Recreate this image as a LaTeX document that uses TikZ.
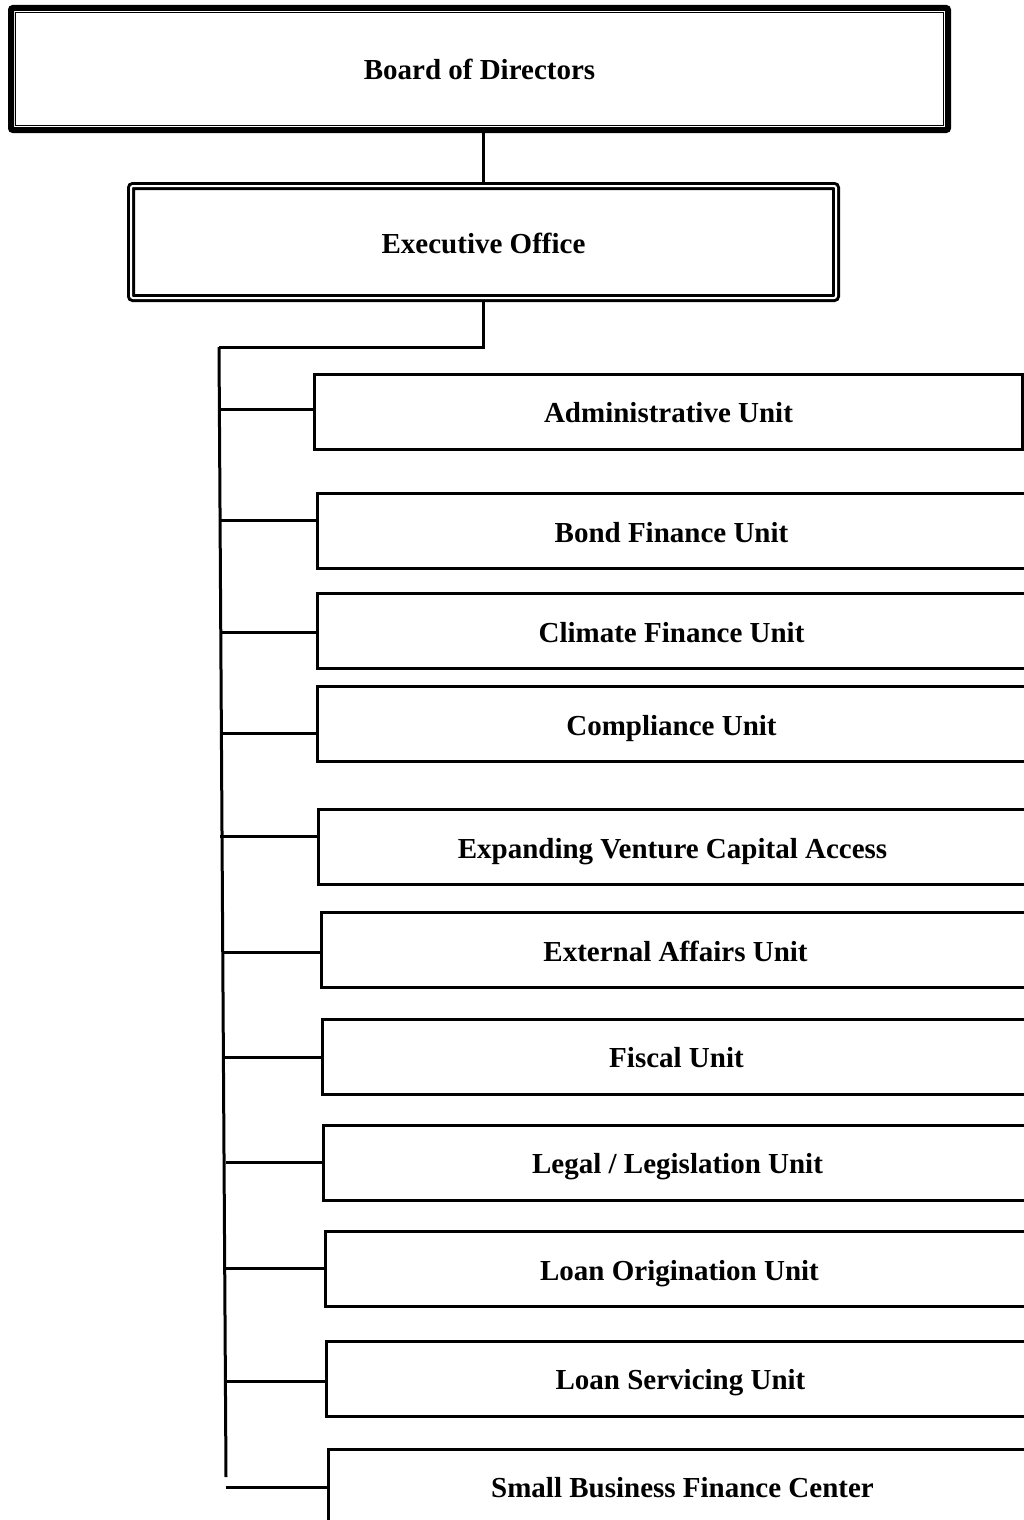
\documentclass[tikz,border=0pt]{standalone}
\usepackage{fontspec}
\setmainfont{Liberation Serif}
\usetikzlibrary{fit}
\begin{document}
\begin{tikzpicture}[x=1pt,y=-1pt,
    every node/.style={font=\fontsize{29}{34}\selectfont\bfseries,text height=25pt,text depth=3pt},
    boardbox/.style={draw,line width=6pt,rounded corners=2pt,minimum width=937pt,minimum height=122pt},
    innerframe/.style={draw,line width=1.2pt,inner sep=-7.5pt},
    execbox/.style={draw,double,line width=3pt,double distance=2pt,rounded corners=2pt,minimum width=705pt,minimum height=112pt},
    unitbox/.style={draw,line width=3pt,anchor=west,minimum width=708pt,minimum height=75pt},
    link/.style={line width=3pt}]
  \useasboundingbox (0,0) rectangle (1023,1520);
  \draw
    (479.5,69) node[boardbox] (board){Board of Directors}
    (483.5,242) node[execbox] (exec){Executive Office}
    (313,411.5) node[unitbox] (admin){Administrative Unit}
    (316,531) node[unitbox] (bond){Bond Finance Unit}
    (316,631) node[unitbox] (climate){Climate Finance Unit}
    (316,724) node[unitbox] (compliance){Compliance Unit}
    (317,847) node[unitbox] (venture){Expanding Venture Capital Access}
    (320,950) node[unitbox] (external){External Affairs Unit}
    (321,1056.5) node[unitbox] (fiscal){Fiscal Unit}
    (322,1162.5) node[unitbox] (legal){Legal / Legislation Unit}
    (324,1269) node[unitbox] (origination){Loan Origination Unit}
    (325,1378.5) node[unitbox] (servicing){Loan Servicing Unit}
    (327,1486.5) node[unitbox] (sbfc){Small Business Finance Center};
  \node[innerframe,fit=(board)] (boardframe){};
  % trunk and branch points
  \coordinate (trunktop) at (219,347);
  \coordinate (trunkend) at (226,1477);
  \coordinate (t1) at (219,409);
  \coordinate (t2) at (219,520);
  \coordinate (t3) at (221,632);
  \coordinate (t4) at (221,733);
  \coordinate (t5) at (220,836);
  \coordinate (t6) at (222,952);
  \coordinate (t7) at (225,1057);
  \coordinate (t8) at (226,1162);
  \coordinate (t9) at (226,1268);
  \coordinate (t10) at (227,1381);
  \coordinate (t11) at (226,1487);
  \begin{scope}[link]
    \draw (board.south -| exec.north) to (exec.north);
    \draw (exec.south) |- (trunktop);
    \draw (trunktop) to (trunkend);
    \draw (t1) to (t1 -| admin.west);
    \draw (t2) to (t2 -| bond.west);
    \draw (t3) to (t3 -| climate.west);
    \draw (t4) to (t4 -| compliance.west);
    \draw (t5) to (t5 -| venture.west);
    \draw (t6) to (t6 -| external.west);
    \draw (t7) to (t7 -| fiscal.west);
    \draw (t8) to (t8 -| legal.west);
    \draw (t9) to (t9 -| origination.west);
    \draw (t10) to (t10 -| servicing.west);
    \draw (t11) to (t11 -| sbfc.west);
  \end{scope}
\end{tikzpicture}
\end{document}
